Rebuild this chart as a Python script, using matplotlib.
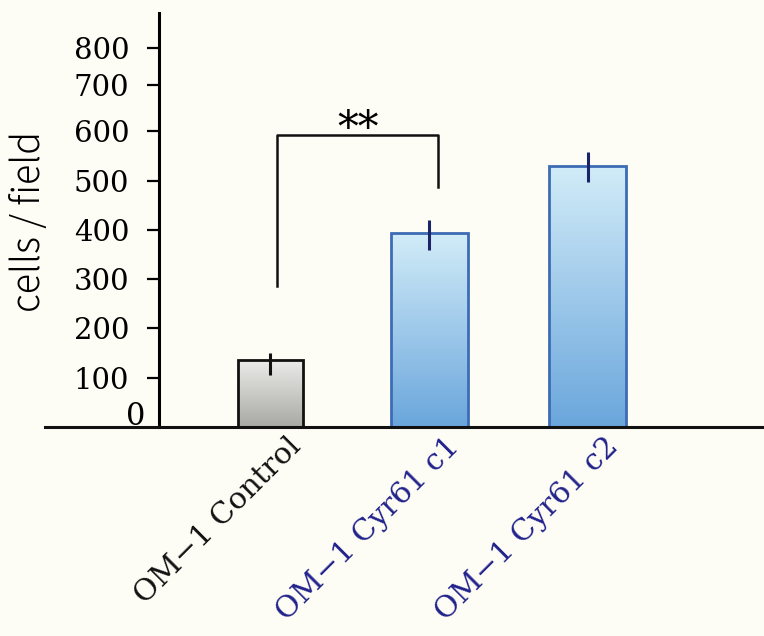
import matplotlib
matplotlib.use("Agg")
import matplotlib.pyplot as plt
import matplotlib.transforms as mtransforms
import numpy as np

# data
groups = ["OM\u22121 Control", "OM\u22121 Cyr61 c1", "OM\u22121 Cyr61 c2"]
means = [136, 393, 530]
err_low = [30, 34, 32]
err_high = [14, 28, 27]
ytick_vals = [100, 200, 300, 400, 500, 600, 694, 769]
ytick_labels = ["100", "200", "300", "400", "500", "600", "700", "800"]
sig_text = "**"

bg = "#fdfdf5"
navy = "#22228c"

plt.rcParams['font.family'] = ['DejaVu Serif']

fig = plt.figure(figsize=(7.64, 6.36), dpi=100, facecolor=bg)
ax = fig.add_axes([159/764, 209/636, 605/764, 414/636])
ax.set_facecolor(bg)

x = np.arange(len(groups))
widths = [0.41, 0.485, 0.485]
edge_cols = ["#111111", "#3d6cb5", "#3d6cb5"]
bars = ax.bar(x, means, width=widths, color="none", edgecolor=edge_cols,
              linewidth=2, zorder=3)

# gradient fills clipped to the bars
grads = [("#ececea", "#a8a8a4"), ("#d2ecf8", "#6aa6dc"), ("#d2ecf8", "#6aa6dc")]
for b, (c_top, c_bot) in zip(bars, grads):
    t = np.linspace(0, 1, 256).reshape(-1, 1)
    top = np.array(matplotlib.colors.to_rgb(c_top))
    bot = np.array(matplotlib.colors.to_rgb(c_bot))
    img = top[None, None, :] * (1 - t[..., None]) + bot[None, None, :] * t[..., None]
    im = ax.imshow(img, extent=[b.get_x(), b.get_x() + b.get_width(), 0, b.get_height()],
                   aspect="auto", zorder=2, origin="upper")
    im.set_clip_path(b)

err_cols = ["#111111", "#1a2466", "#1a2466"]
for i in range(len(groups)):
    ax.errorbar(x[i], means[i], yerr=[[err_low[i]], [err_high[i]]], fmt="none",
                ecolor=err_cols[i], elinewidth=2.2, capsize=0, zorder=4)

ax.set_xlim(-0.702, 3.109)
ax.set_ylim(0, 840)

for s in ["top", "right", "bottom"]:
    ax.spines[s].set_visible(False)
ax.spines["left"].set_linewidth(2.2)
ax.axhline(0, xmin=(45 - 159) / 605, xmax=1, color="#111111", lw=2.2,
           clip_on=False, zorder=5)

ax.set_yticks(ytick_vals, ytick_labels)
ax.tick_params(axis="y", direction="out", length=8.5, width=1.6, pad=13,
               labelsize=21)
ax.set_xticks([])
ax.text(-0.023, 22, "0", transform=mtransforms.blended_transform_factory(ax.transAxes, ax.transData),
        ha="right", va="center", fontsize=22)

fig.text(29/764, 1 - 221/636, "cells / field", rotation=90, ha="center",
         va="center", fontsize=27, family=["Noto Sans CJK JP", "DejaVu Sans"],
         fontweight="light")

# group labels, right end sits just right of each bar centre
lab_cols = ["#111111", navy, navy]
trans = mtransforms.blended_transform_factory(ax.transData, ax.transAxes)
for xi, name, c in zip(x, groups, lab_cols):
    ax.text(xi + 0.1, -0.012, name, transform=trans, rotation=45,
            rotation_mode="anchor", ha="right", va="top", fontsize=21.5, color=c)

# significance bracket
bx0, bx1 = 0.043, 1.057
ax.plot([bx0, bx0, bx1, bx1], [286, 592, 592, 487], color="#111111", lw=1.8,
        zorder=4)
ax.text(0.551, 580, sig_text, ha="center", va="baseline", fontsize=30)

fig.savefig("out.png", dpi=100, facecolor=bg)
